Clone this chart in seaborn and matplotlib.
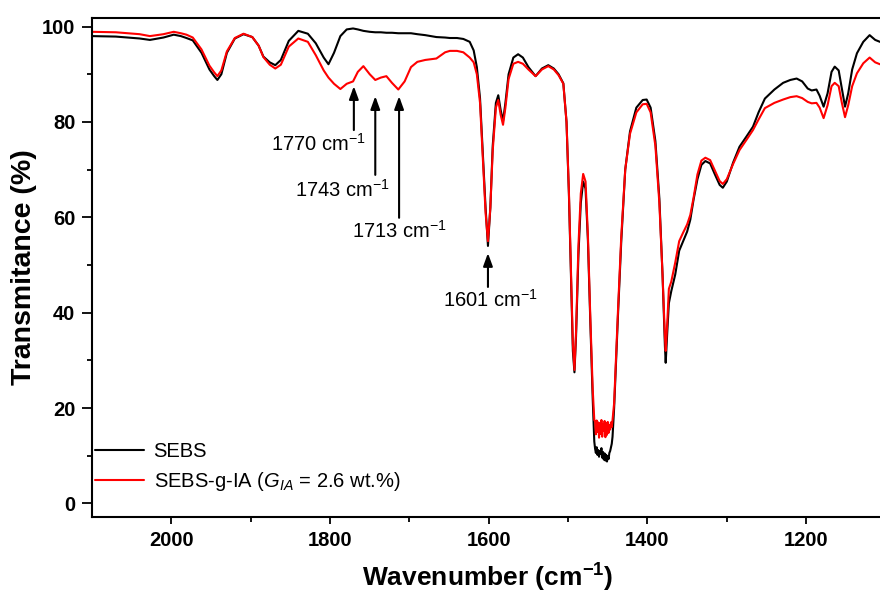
import numpy as np
import pandas as pd
import matplotlib
matplotlib.use("Agg")
import matplotlib.pyplot as plt
import seaborn as sns

# ---------------- data ----------------
wavenumber = [2100, 2070, 2040, 2027, 2010, 1997, 1988, 1981, 1973, 1962, 1952, 1946, 1942, 1937,
              1930, 1920, 1909, 1898, 1890, 1884, 1876, 1869, 1862, 1852, 1840, 1828, 1818, 1808,
              1802, 1795, 1787, 1779, 1771, 1765, 1758, 1750, 1743, 1736, 1729, 1722, 1714, 1706,
              1698, 1690, 1680, 1666, 1655, 1649, 1640, 1632, 1624, 1619, 1615, 1611, 1607, 1604,
              1601, 1598, 1595, 1591, 1588, 1585, 1582, 1579, 1575, 1569, 1563, 1557, 1550, 1541,
              1533, 1525, 1518, 1512, 1506, 1502, 1499, 1496, 1494, 1492, 1490, 1487, 1484, 1481,
              1478, 1475, 1472, 1469, 1467,
              1466, 1465, 1464, 1463, 1462, 1461, 1460, 1459, 1458, 1457, 1456, 1455, 1454, 1453,
              1452, 1451, 1450, 1449, 1448, 1447, 1446, 1445, 1444,
              1442, 1440, 1437, 1433, 1428, 1422, 1414, 1406, 1401, 1396, 1390, 1385, 1381, 1378,
              1377, 1375, 1373, 1370, 1365, 1360, 1355, 1350, 1346, 1342, 1337, 1332, 1327, 1321,
              1315, 1309, 1305, 1300, 1292, 1284, 1275, 1267, 1260, 1252, 1240, 1229, 1220, 1212,
              1205, 1198, 1193, 1187, 1183, 1178, 1173, 1168, 1164, 1159, 1155, 1151, 1147, 1142,
              1136, 1128, 1120, 1113, 1107, 1100]

sebs = [98.0, 97.9, 97.5, 97.2, 97.7, 98.3, 98.0, 97.6, 97.1, 94.5, 91.0, 89.6, 88.8, 90.0,
        94.5, 97.5, 98.4, 97.8, 96.0, 93.7, 92.5, 91.9, 93.0, 97.0, 99.1, 98.5, 96.5, 93.5,
        92.1, 94.5, 98.0, 99.4, 99.6, 99.4, 99.1, 98.9, 98.8, 98.8, 98.7, 98.7, 98.6, 98.6,
        98.6, 98.4, 98.2, 97.8, 97.7, 97.6, 97.6, 97.4, 96.8, 95.0, 91.5, 85.0, 72.0, 62.0,
        54.0, 62.0, 75.0, 84.0, 85.6, 82.5, 80.2, 84.0, 90.0, 93.5, 94.2, 93.5, 91.5, 89.6,
        91.2, 91.9, 91.2, 90.0, 88.1, 80.0, 65.0, 45.0, 32.0, 27.5, 35.0, 52.0, 63.0, 67.5,
        66.0, 55.0, 38.0, 22.0, 13.0,
        11.5, 10.6, 11.8, 10.2, 11.2, 9.8, 11.0, 10.4, 11.6, 9.6, 10.8, 9.2, 10.5, 9.0,
        10.2, 8.8, 9.9, 9.3, 10.6, 11.0, 11.8, 12.5, 14.0,
        20.0, 28.0, 40.0, 55.0, 70.0, 78.0, 83.0, 84.6, 84.7, 83.0, 76.0, 64.0, 48.0, 33.0,
        29.5, 36.0, 42.0, 44.5, 48.0, 53.0, 55.0, 57.0, 59.5, 63.6, 68.0, 71.0, 71.8, 71.3,
        69.0, 66.8, 66.2, 67.5, 71.5, 74.8, 77.0, 79.0, 82.0, 84.9, 86.8, 88.2, 88.8, 89.1,
        88.5, 87.0, 86.6, 86.8, 85.5, 83.2, 86.0, 90.5, 91.6, 90.8, 87.0, 83.2, 86.0, 91.0,
        94.4, 96.8, 98.2, 97.2, 96.8, 96.8]

sebs_g_ia = [98.9, 98.8, 98.4, 98.0, 98.4, 98.9, 98.6, 98.3, 97.7, 95.2, 91.8, 90.4, 89.6, 90.8,
             94.8, 97.6, 98.5, 97.8, 96.0, 93.6, 92.0, 91.2, 92.0, 95.8, 97.5, 96.8, 94.0, 90.8,
             89.3, 88.0, 86.9, 88.0, 88.5, 90.5, 91.7, 90.0, 88.8, 89.3, 89.6, 88.2, 86.8, 88.5,
             91.5, 92.6, 93.0, 93.3, 94.6, 94.9, 94.9, 94.6, 93.5, 92.5, 90.0, 84.0, 71.0, 61.0,
             55.0, 62.0, 74.0, 83.0, 84.6, 81.5, 79.4, 83.0, 89.0, 92.2, 92.6, 92.2, 91.0, 89.6,
             91.0, 91.7, 91.0, 89.8, 88.0, 80.0, 65.5, 46.0, 33.5, 28.0, 36.0, 54.0, 65.0, 69.1,
             67.5, 56.0, 39.0, 24.0, 17.5,
             17.2, 14.5, 17.4, 15.0, 17.0, 13.8, 16.8, 14.6, 17.5, 14.0, 16.6, 15.2, 17.3, 13.9,
             16.9, 14.4, 17.1, 14.8, 16.4, 15.5, 17.0, 16.0, 17.5,
             21.0, 29.0, 41.0, 56.0, 70.0, 77.5, 82.0, 83.7, 83.8, 82.0, 75.0, 63.0, 48.0, 35.0,
             32.0, 38.0, 45.0, 46.5, 50.5, 55.0, 56.8, 58.5, 60.5, 64.0, 69.0, 71.9, 72.5, 72.0,
             69.8, 67.6, 67.0, 68.0, 71.2, 74.1, 76.3, 78.3, 80.5, 82.9, 84.0, 84.7, 85.2, 85.4,
             85.0, 84.2, 83.9, 84.0, 83.0, 80.8, 83.5, 87.5, 88.2, 87.5, 84.0, 81.0, 83.5, 87.5,
             90.2, 92.3, 93.5, 92.5, 92.1, 92.1]

series_names = ["SEBS", r"SEBS-g-IA ($\mathit{G}_{\mathit{IA}}$ = 2.6 wt.%)"]
series_colors = ["black", "#ff0000"]

peak_positions = [1770, 1743, 1713, 1601]
peak_labels = [r"1770 cm$^{-1}$", r"1743 cm$^{-1}$", r"1713 cm$^{-1}$", r"1601 cm$^{-1}$"]

xticks = [2000, 1800, 1600, 1400, 1200]
yticks = [0, 20, 40, 60, 80, 100]

assert len(wavenumber) == len(sebs) == len(sebs_g_ia)

df = pd.DataFrame({
    "Wavenumber": wavenumber * 2,
    "Transmittance": sebs + sebs_g_ia,
    "Sample": [series_names[0]] * len(sebs) + [series_names[1]] * len(sebs_g_ia),
})

# ---------------- style ----------------
sns.set_theme(style="ticks")
plt.rcParams["font.family"] = ["Liberation Sans", "DejaVu Sans"]
plt.rcParams["mathtext.fontset"] = "custom"
plt.rcParams["mathtext.rm"] = "Liberation Sans"
plt.rcParams["mathtext.it"] = "Liberation Sans:italic"
plt.rcParams["mathtext.bf"] = "Liberation Sans:bold"
for key in ["text.color", "axes.labelcolor", "xtick.color", "ytick.color", "axes.edgecolor"]:
    plt.rcParams[key] = "black"

W, H = 880, 601
fig = plt.figure(figsize=(W / 100, H / 100), dpi=100)
ax_left, ax_top, ax_bottom = 92, 17.5, 517.3
xmin, xmax = 2100, 1100
px_per_unit = 0.7935
ax_width_px = (xmin - xmax) * px_per_unit
ax_height_px = ax_bottom - ax_top
ax = fig.add_axes([ax_left / W, 1 - ax_bottom / H, ax_width_px / W, ax_height_px / H])

sns.lineplot(data=df, x="Wavenumber", y="Transmittance", hue="Sample",
             palette=series_colors, estimator=None, sort=True, linewidth=1.5, ax=ax)

ax.set_xlim(xmin, xmax)
ax.set_ylim(-2.9, 101.9)
ax.set_xticks(xticks)
ax.set_yticks(yticks)
ax.set_xticks([1900, 1700, 1500, 1300, 1100], minor=True)
ax.set_yticks([10, 30, 50, 70, 90], minor=True)
ax.tick_params(axis="both", which="major", direction="out", width=1.3, labelsize=14.5, pad=5,
               colors="black")
ax.tick_params(axis="x", which="major", length=5)
ax.tick_params(axis="y", which="major", length=7)
ax.tick_params(axis="both", which="minor", direction="out", width=1.3, length=3.5, colors="black")
for lab in ax.get_xticklabels() + ax.get_yticklabels():
    lab.set_fontweight("bold")
for s in ax.spines.values():
    s.set_linewidth(1.5)
    s.set_color("black")

ax.set_xlabel(r"Wavenumber (cm$^{\mathbf{-1}}$)", fontsize=19, fontweight="bold", color="black")
ax.set_ylabel("Transmitance (%)", fontsize=20.5, fontweight="bold", color="black")
ax.xaxis.set_label_coords((488 - ax_left) / ax_width_px, -(562 - ax_bottom) / ax_height_px)
ax.yaxis.set_label_coords(-(92 - 37) / ax_width_px, 0.5)

# annotations (arrow tail y, arrow head y, text x, text y)
arrow_tail = [78.3, 68.9, 59.9, 45.4]
arrow_head = [87.5, 85.4, 85.4, 52.5]
text_x = [1815, 1784, 1712, 1598]
text_y = [75.4, 65.8, 57.1, 42.6]
for pos, lab, t0, t1, tx, ty in zip(peak_positions, peak_labels, arrow_tail, arrow_head, text_x, text_y):
    ax.annotate("", xy=(pos, t1), xytext=(pos, t0),
                arrowprops=dict(arrowstyle="-|>,head_length=0.55,head_width=0.2",
                                color="black", lw=1.5, mutation_scale=14, shrinkA=0, shrinkB=0))
    ax.text(tx, ty, lab, fontsize=14.5, ha="center", va="center", color="black")

leg = ax.legend(loc="lower left", bbox_to_anchor=(0.004, 0.048), frameon=False,
                fontsize=14.5, handlelength=2.4, handletextpad=0.5, labelspacing=0.45,
                borderpad=0, borderaxespad=0)
for t in leg.get_texts():
    t.set_color("black")
for h in leg.get_lines():
    h.set_linewidth(1.5)

fig.savefig("out.png", dpi=100)
